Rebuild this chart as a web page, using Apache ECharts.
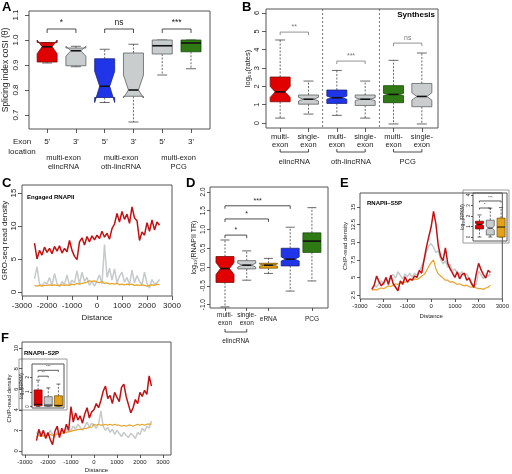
<!DOCTYPE html>
<html><head><meta charset="utf-8">
<script src="https://cdn.jsdelivr.net/npm/echarts@6/dist/echarts.min.js"></script>
<style>html,body{margin:0;padding:0;background:#fff}#c{width:512px;height:474px}</style>
</head><body><div id="c"></div>
<script>
// ---------------- DATA ----------------
// Panel A: splicing index
const aTicks = ["5'", "3'", "5'", "3'", "5'", "3'"];
const aGroups = ['multi-exon\nelincRNA', 'multi-exon\noth-lincRNA', 'multi-exon\nPCG'];
const aLow     = [0.908, 0.893, 0.750, 0.672, 0.860, 0.885];
const aQ1      = [0.912, 0.897, 0.770, 0.775, 0.944, 0.953];
const aNotchLo = [0.945, 0.935, 0.750, 0.768, 0.977, 0.988];
const aMedian  = [0.973, 0.957, 0.815, 0.800, 0.977, 0.988];
const aNotchHi = [1.000, 0.975, 0.875, 0.860, 0.977, 0.988];
const aQ3      = [0.990, 0.968, 0.925, 0.948, 1.000, 1.000];
const aHigh    = [0.990, 0.975, 0.963, 0.983, 1.000, 1.000];
const aSigPairs = [[1, 2], [3, 4], [5, 6]];
const aSigY = [1.044, 1.044, 1.044];
const aSigText = ['*', 'ns', '***'];

// Panel B: synthesis rates
const bTicks = ['multi-\nexon', 'single-\nexon', 'multi-\nexon', 'single-\nexon', 'multi-\nexon', 'single-\nexon'];
const bGroups = ['elincRNA', 'oth-lincRNA', 'PCG'];
const bLow     = [0.27, 0.49, 0.42, 0.27, -0.05, -0.05];
const bQ1      = [1.16, 1.03, 1.07, 0.96, 1.11, 0.89];
const bNotchLo = [1.40, 1.20, 1.30, 1.22, 1.50, 1.25];
const bMedian  = [1.70, 1.30, 1.38, 1.30, 1.56, 1.45];
const bNotchHi = [2.00, 1.40, 1.47, 1.38, 1.62, 1.65];
const bQ3      = [2.51, 1.53, 1.80, 1.53, 2.04, 2.16];
const bHigh    = [4.53, 2.29, 2.87, 2.29, 3.42, 3.82];
const bSigPairs = [[1, 2], [3, 4], [5, 6]];
const bSigY = [4.96, 3.38, 4.36];
const bSigText = ['**', '***', 'ns'];
const bSeparators = [2.5, 4.5];

// Panel D: RNAPII travelling ratio
const dTicks = ['multi-\nexon', 'single-\nexon', 'eRNA', 'oth-lincRNA', 'PCG'];
const dLow     = [-1.06, -0.35, -0.17, -0.64, -0.37];
const dQ1      = [-0.41, -0.05, -0.03, 0.03, 0.39];
const dNotchLo = [-0.20, 0.00, 0.02, 0.16, 0.69];
const dMedian  = [-0.04, 0.05, 0.05, 0.21, 0.69];
const dNotchHi = [0.12, 0.10, 0.08, 0.27, 0.69];
const dQ3      = [0.28, 0.17, 0.10, 0.50, 0.91];
const dHigh    = [0.72, 0.43, 0.23, 1.06, 1.58];
const dSigPairs = [[1, 2], [1, 3], [1, 4]];
const dSigY = [0.85, 1.28, 1.63];
const dSigText = ['*', '*', '***'];

// Metaprofiles (distance from TSS)
const xDist = [-2500,-2400,-2300,-2200,-2100,-2000,-1900,-1800,-1700,-1600,-1500,-1400,-1300,-1200,-1100,-1000,-900,-800,-700,-600,-500,-400,-300,-200,-100,0,100,200,300,400,500,600,700,800,900,1000,1100,1200,1300,1400,1500,1600,1700,1800,1900,2000,2100,2200,2300,2400,2500];
const cRed    = [7.4,5.0,6.3,5.6,6.8,6.0,6.6,5.8,6.9,6.2,7.0,5.9,6.6,6.1,7.8,6.3,5.4,4.9,7.6,8.2,7.1,8.4,7.6,8.5,7.9,8.6,8.1,9.2,8.3,8.9,8.0,9.6,10.3,11.9,10.6,12.2,11.0,11.8,10.4,12.9,11.2,10.8,7.8,9.1,8.6,10.5,9.2,10.9,9.4,10.6,10.1];
const cGrey   = [2.0,3.8,1.2,1.0,1.5,1.2,2.2,1.0,2.8,1.3,0.8,1.6,1.1,2.6,1.0,1.8,1.4,3.2,1.2,3.0,1.6,2.2,1.0,1.6,0.9,1.7,2.6,1.2,7.2,2.2,3.6,1.8,3.5,1.4,2.4,3.0,1.5,2.2,1.1,3.3,1.4,2.5,1.6,1.1,3.0,1.3,0.6,1.9,1.2,1.4,1.9];
const cOrange = [1.0,0.9,1.0,0.9,1.0,1.0,1.1,1.0,1.1,1.0,1.0,1.1,1.0,1.1,1.0,1.2,1.1,1.3,1.2,1.3,1.4,1.5,1.7,1.6,1.7,1.5,1.4,1.6,1.3,1.4,1.2,1.3,1.2,1.3,1.1,1.2,1.1,1.2,1.1,1.2,1.0,1.1,1.0,1.1,1.0,0.9,1.0,1.1,1.0,1.2,1.1];
const eRed    = [3.3,3.9,5.2,4.4,3.8,4.2,5.0,4.0,5.3,4.1,3.6,3.1,4.5,4.0,5.1,4.3,4.8,4.6,5.2,5.0,6.0,5.6,7.5,9.3,10.8,12.2,14.4,12.6,9.5,8.0,7.4,9.2,7.0,6.2,5.6,5.0,5.8,4.8,5.4,5.6,4.6,4.9,4.1,3.6,5.5,7.0,6.1,5.4,4.9,6.0,5.7];
const eGrey   = [3.4,3.8,3.6,4.2,4.5,4.0,4.8,4.3,5.2,5.4,4.9,5.8,5.3,4.8,5.5,5.1,5.6,5.0,5.6,5.3,5.9,6.6,7.4,8.6,9.5,9.8,9.3,8.5,8.8,7.6,6.9,7.4,6.4,6.8,5.9,6.2,5.6,5.4,5.8,5.2,5.5,4.9,4.3,3.8,4.0,5.9,5.4,4.8,5.5,5.2,5.5];
const eOrange = [3.2,3.3,3.2,3.4,3.5,3.4,3.6,3.8,3.7,3.9,4.1,4.0,4.2,4.4,4.3,4.5,4.7,4.6,4.8,4.7,4.9,5.2,5.4,5.9,6.6,7.1,7.5,6.2,5.5,5.2,4.9,4.6,4.6,4.3,4.4,4.2,4.0,4.1,3.9,3.8,3.9,3.7,3.6,3.7,3.5,3.4,3.4,3.3,3.5,3.6,3.9];
const fRed    = [1.0,2.1,1.4,2.0,1.2,1.8,1.1,0.6,1.9,2.4,1.3,2.2,1.7,2.6,2.0,4.3,2.8,3.7,3.0,3.4,2.7,3.6,4.2,3.2,3.8,4.0,4.6,4.2,4.9,5.8,6.3,5.1,5.4,4.6,5.7,5.2,4.8,6.2,6.5,5.3,4.5,3.7,4.2,5.0,4.6,5.7,5.3,5.9,5.5,7.3,6.3];
const fGrey   = [1.8,1.5,1.9,1.4,1.7,1.5,2.0,1.6,1.3,1.8,1.5,2.0,1.7,2.2,1.8,2.0,2.4,2.1,2.6,2.3,2.0,2.4,2.8,2.3,2.7,2.5,2.2,2.6,3.9,2.4,2.0,2.3,1.8,2.1,1.6,2.0,1.7,1.4,1.8,1.5,1.3,1.7,1.5,1.2,1.8,1.6,2.2,1.9,2.4,2.2,2.9];
const fOrange = [1.4,1.5,1.4,1.5,1.5,1.5,1.6,1.5,1.6,1.6,1.7,1.7,1.8,1.8,1.9,1.9,2.0,2.0,2.1,2.1,2.1,2.2,2.2,2.3,2.3,2.6,2.5,2.6,2.5,2.5,2.6,2.5,2.6,2.5,2.6,2.5,2.5,2.4,2.5,2.4,2.5,2.5,2.4,2.5,2.6,2.5,2.6,2.5,2.6,2.6,2.6];
const distTicks = [-3000, -2000, -1000, 0, 1000, 2000, 3000];

// Insets (log10 RPKM)
const eInLow = [0.0, 0.0, 0.0], eInQ1 = [0.77, 0.20, 0.00], eInNotchLo = [1.10, 0.65, 0.95], eInMedian = [1.20, 0.85, 0.95], eInNotchHi = [1.30, 1.05, 0.95], eInQ3 = [1.50, 1.60, 1.80], eInHigh = [2.10, 2.75, 2.80];
const eInSigPairs = [[1, 3], [1, 2]], eInSigY = [3.43, 2.76], eInSigText = ['***', '*'];
const fInLow = [0.0, 0.0, 0.0], fInQ1 = [0.05, 0.02, 0.02], fInNotchLo = [0.15, 0.10, 0.08], fInMedian = [0.15, 0.10, 0.08], fInNotchHi = [0.15, 0.10, 0.08], fInQ3 = [1.13, 0.67, 0.73], fInHigh = [1.80, 1.27, 1.53];
const fInSigPairs = [[1, 3], [1, 2]], fInSigY = [2.47, 2.07], fInSigText = ['***', '**'];

// ---------------- STYLE ----------------
const FONT = '"Liberation Sans", Arial, Helvetica, sans-serif';
const RED = ['#E00000', '#7A0E0E'], GREY = ['#C9CDCD', '#5E6262'], BLUE = ['#2035E8', '#1A237E'],
      GREEN = ['#2F7A14', '#1B4A0C'], ORANGE = ['#E3A21A', '#7D5806'];
const LRED = '#C41010', LGREY = '#C6CACA', LORANGE = '#E8A32A';

function axis(o) {
  const hasT = !!o.ticks;
  const ax = {
    type: 'value', gridIndex: o.grid, min: o.min, max: o.max,
    axisLine: {show: false, onZero: false}, splitLine: {show: false},
    axisTick: {show: hasT, length: o.tickLen || 3, lineStyle: {color: '#333', width: 0.8}},
    axisLabel: {show: hasT, rotate: o.rotate || 0, fontSize: o.fs || 8, fontFamily: FONT, color: '#222',
      margin: o.margin == null ? 4 : o.margin, hideOverlap: false, showMinLabel: true, showMaxLabel: true},
    name: o.name || '', nameLocation: 'middle', nameGap: o.nameGap || 15,
    nameTextStyle: {fontSize: o.nfs || 8, fontFamily: FONT, color: '#222'}
  };
  if (hasT) { ax.axisTick.customValues = o.ticks; ax.axisLabel.customValues = o.ticks; }
  ax.axisLabel.formatter = o.fmt || (v => String(v));
  if (o.lh) ax.axisLabel.lineHeight = o.lh;
  if (o.va) ax.axisLabel.verticalAlign = o.va;
  if (o.nameRotate != null) ax.nameRotate = o.nameRotate;
  return ax;
}

function boxSeries(g, low, q1, nl, md, nh, q3, hi, colors, boxW, medW) {
  const data = low.map((v, i) => [i + 1, low[i], q1[i], nl[i], md[i], nh[i], q3[i], hi[i]]);
  return {
    type: 'custom', xAxisIndex: g, yAxisIndex: g, data, z: 5, clip: false, silent: true,
    encode: {x: [0], y: [1, 2, 3, 4, 5, 6, 7]},
    renderItem(params, api) {
      const i = params.dataIndex;
      const xv = api.value(0);
      const Y = k => api.coord([xv, api.value(k)])[1];
      const cx = api.coord([xv, api.value(4)])[0];
      const yLo = Y(1), yQ1 = Y(2), yNl = Y(3), yMd = Y(4), yNh = Y(5), yQ3 = Y(6), yHi = Y(7);
      const w = boxW / 2, cw = boxW * 0.25;
      const dash = {stroke: '#444', lineWidth: 0.8, lineDash: [2, 1.5]};
      const cap = {stroke: '#444', lineWidth: 0.8};
      const notched = Math.abs(api.value(3) - api.value(5)) > 1e-9;
      const pts = notched
        ? [[cx - w, yQ1], [cx - w, yNl], [cx - w / 2, yMd], [cx - w, yNh], [cx - w, yQ3], [cx + w, yQ3], [cx + w, yNh], [cx + w / 2, yMd], [cx + w, yNl], [cx + w, yQ1]]
        : [[cx - w, yQ1], [cx - w, yQ3], [cx + w, yQ3], [cx + w, yQ1]];
      const mw = notched ? w / 2 : w;
      return {type: 'group', children: [
        {type: 'line', shape: {x1: cx, y1: yQ3, x2: cx, y2: yHi}, style: dash},
        {type: 'line', shape: {x1: cx, y1: yQ1, x2: cx, y2: yLo}, style: dash},
        {type: 'line', shape: {x1: cx - cw, y1: yHi, x2: cx + cw, y2: yHi}, style: cap},
        {type: 'line', shape: {x1: cx - cw, y1: yLo, x2: cx + cw, y2: yLo}, style: cap},
        {type: 'polygon', shape: {points: pts}, style: {fill: colors[i][0], stroke: colors[i][1], lineWidth: 0.8}},
        {type: 'line', shape: {x1: cx - mw, y1: yMd, x2: cx + mw, y2: yMd}, style: {stroke: '#111', lineWidth: medW || 1.6}}
      ]};
    }
  };
}

function sigSeries(g, pairs, ys, texts, color, fs, tick) {
  const data = pairs.map((p, i) => [p[0], p[1], ys[i]]);
  return {
    type: 'custom', xAxisIndex: g, yAxisIndex: g, data, z: 6, clip: false, silent: true,
    encode: {x: [0, 1], y: [2]},
    renderItem(params, api) {
      const a = api.coord([api.value(0), api.value(2)]);
      const b = api.coord([api.value(1), api.value(2)]);
      const t = tick;
      return {type: 'group', children: [
        {type: 'polyline', shape: {points: [[a[0], a[1] + t], [a[0], a[1]], [b[0], a[1]], [b[0], a[1] + t]]},
         style: {stroke: color, lineWidth: 0.8, fill: null}},
        {type: 'text', style: {text: texts[params.dataIndex], x: (a[0] + b[0]) / 2, y: a[1] - 1.5,
          align: 'center', verticalAlign: 'bottom', fontSize: fs, fontFamily: FONT, fill: color}}
      ]};
    }
  };
}

function groupSeries(g, pairs, texts, o) {
  const data = pairs.map(p => [p[0], p[1]]);
  return {
    type: 'custom', xAxisIndex: g, yAxisIndex: g, data, z: 6, clip: false, silent: true,
    encode: {x: [0, 1]},
    renderItem(params, api) {
      const cs = params.coordSys;
      const bottom = cs.y + cs.height;
      const xa = api.coord([api.value(0), 0])[0];
      const xb = api.coord([api.value(1), 0])[0];
      const ch = [];
      if (o.bracket != null) {
        const yb = bottom + o.bracket;
        ch.push({type: 'polyline', shape: {points: [[xa, yb - 3], [xa, yb], [xb, yb], [xb, yb - 3]]},
          style: {stroke: '#222', lineWidth: 0.8, fill: null}});
      }
      ch.push({type: 'text', style: {text: texts[params.dataIndex], x: (xa + xb) / 2 + (o.dx || 0), y: bottom + o.text,
        align: 'center', verticalAlign: 'middle', fontSize: o.fs, lineHeight: o.lh || o.fs + 1, fontFamily: FONT, fill: '#222'}});
      return {type: 'group', children: ch};
    }
  };
}

function sepSeries(g, xs) {
  return {
    type: 'custom', xAxisIndex: g, yAxisIndex: g, data: xs.map(x => [x]), z: 3, clip: false, silent: true,
    encode: {x: [0]},
    renderItem(params, api) {
      const cs = params.coordSys;
      const x = api.coord([api.value(0), 0])[0];
      return {type: 'line', shape: {x1: x, y1: cs.y, x2: x, y2: cs.y + cs.height},
        style: {stroke: '#555', lineWidth: 0.8, lineDash: [2, 2]}};
    }
  };
}

function lineSeries(g, ys, color, w, z) {
  return {type: 'line', xAxisIndex: g, yAxisIndex: g, data: xDist.map((x, i) => [x, ys[i]]),
    showSymbol: false, symbol: 'none', silent: true, z: z,
    lineStyle: {color: color, width: w}};
}

const gridStyle = {show: true, borderColor: '#555', borderWidth: 1, backgroundColor: 'transparent'};
const grids = [
  Object.assign({left: 29, top: 11, width: 181, height: 118}, gridStyle),   // A
  Object.assign({left: 266, top: 9, width: 172, height: 119}, gridStyle),   // B
  Object.assign({left: 22, top: 185, width: 150, height: 111}, gridStyle),  // C
  Object.assign({left: 210, top: 187, width: 118, height: 121}, gridStyle), // D
  Object.assign({left: 360, top: 193, width: 151, height: 106}, gridStyle), // E
  Object.assign({left: 473, top: 193, width: 34, height: 48}, gridStyle),   // E inset
  Object.assign({left: 22, top: 342, width: 149, height: 114}, gridStyle),  // F
  Object.assign({left: 32, top: 364, width: 32, height: 44}, gridStyle)     // F inset
];

const fmt1 = v => v.toFixed(1);
const xAxes = [
  axis({grid: 0, min: 0.37, max: 6.66, ticks: [1, 2, 3, 4, 5, 6], fmt: v => aTicks[Math.round(v) - 1], margin: 9, tickLen: 4, fs: 8}),
  axis({grid: 1, min: 0.5, max: 6.57, ticks: [1, 2, 3, 4, 5, 6], fmt: v => bTicks[Math.round(v) - 1], margin: 5, tickLen: 4, fs: 7.5, lh: 8}),
  axis({grid: 2, min: -3000, max: 3000, ticks: distTicks, margin: 6, tickLen: 4, fs: 8, name: 'Distance', nameGap: 18}),
  axis({grid: 3, min: 0.31, max: 5.74, ticks: [1, 2, 3, 4, 5], fmt: v => dTicks[Math.round(v) - 1], margin: 11, tickLen: 3, fs: 6.5, lh: 8, va: 'middle'}),
  axis({grid: 4, min: -3000, max: 3000, ticks: distTicks, margin: 4, tickLen: 3, fs: 6, name: 'Distance', nameGap: 14, nfs: 6}),
  axis({grid: 5, min: 0.4, max: 3.55, ticks: null}),
  axis({grid: 6, min: -3130, max: 3350, ticks: distTicks, margin: 4, tickLen: 3, fs: 6, name: 'Distance', nameGap: 12, nfs: 6}),
  axis({grid: 7, min: 0.4, max: 3.55, ticks: null})
];
const yAxes = [
  axis({grid: 0, min: 0.644, max: 1.116, ticks: [0.7, 0.8, 0.9, 1.0, 1.1], fmt: fmt1, rotate: 90, margin: 9, tickLen: 4, fs: 8,
        name: 'Splicing index coSI (\u03b8)', nameGap: 19, nameRotate: 90, nfs: 8.5}),
  axis({grid: 1, min: -0.27, max: 6.22, ticks: [0, 1, 2, 3, 4, 5, 6], rotate: 90, margin: 5, tickLen: 4, fs: 7.5,
        name: 'log\u2081\u2080(rates)', nameGap: 14, nameRotate: 90, nfs: 7.5}),
  axis({grid: 2, min: -0.6, max: 16.2, ticks: [0, 5, 10, 15], rotate: 90, margin: 4, tickLen: 4, fs: 8,
        name: 'GRO-seq read density', nameGap: 12, nameRotate: 90, nfs: 8}),
  axis({grid: 3, min: -1.09, max: 2.13, ticks: [-1, -0.5, 0, 0.5, 1, 1.5, 2], fmt: fmt1, rotate: 90, margin: 3, tickLen: 3, fs: 6.5,
        name: 'log\u2081\u2080(RNAPII TR)', nameGap: 12, nameRotate: 90, nfs: 7}),
  axis({grid: 4, min: 1.93, max: 17.0, ticks: [2.5, 5, 7.5, 10, 12.5, 15], rotate: 90, margin: 4, tickLen: 3, fs: 6,
        name: 'ChIP-read density', nameGap: 12, nameRotate: 90, nfs: 6}),
  axis({grid: 5, min: -0.38, max: 4.19, ticks: [0, 1, 2, 3, 4], rotate: 90, margin: 2, tickLen: 2, fs: 4.5,
        name: 'log\u2081\u2080(RPKM)', nameGap: 7, nameRotate: 90, nfs: 4.5}),
  axis({grid: 6, min: -0.4, max: 10.6, ticks: [0, 2, 4, 6, 8, 10], rotate: 90, margin: 3, tickLen: 3, fs: 6,
        name: 'ChIP-read density', nameGap: 10, nameRotate: 90, nfs: 6}),
  axis({grid: 7, min: -0.1, max: 2.9, ticks: [0, 1, 2], rotate: 90, margin: 2, tickLen: 2, fs: 4.5,
        name: 'log\u2081\u2080(RPKM)', nameGap: 7, nameRotate: 90, nfs: 4.5})
];

const series = [
  boxSeries(0, aLow, aQ1, aNotchLo, aMedian, aNotchHi, aQ3, aHigh, [RED, GREY, BLUE, GREY, GREY, GREEN], 20),
  sigSeries(0, aSigPairs, aSigY, aSigText, '#222', 8.5, 4),
  groupSeries(0, [[1, 2], [3, 4], [5, 6]], aGroups, {text: 33.5, fs: 7.5, lh: 9, dx: 2}),
  boxSeries(1, bLow, bQ1, bNotchLo, bMedian, bNotchHi, bQ3, bHigh, [RED, GREY, BLUE, GREY, GREEN, GREY], 20),
  sigSeries(1, bSigPairs, bSigY, bSigText, '#777', 7, 3),
  sepSeries(1, bSeparators),
  groupSeries(1, [[1, 2], [3, 4], [5, 6]], bGroups, {bracket: 24, text: 34, fs: 7.5}),
  lineSeries(2, cGrey, LGREY, 1.5, 2), lineSeries(2, cOrange, LORANGE, 1.3, 3), lineSeries(2, cRed, LRED, 1.5, 4),
  boxSeries(3, dLow, dQ1, dNotchLo, dMedian, dNotchHi, dQ3, dHigh, [RED, GREY, ORANGE, BLUE, GREEN], 18),
  sigSeries(3, dSigPairs, dSigY, dSigText, '#222', 7, 3),
  groupSeries(3, [[1, 2]], ['elincRNA'], {bracket: 24, text: 33, fs: 6.5}),
  lineSeries(4, eGrey, LGREY, 1.5, 2), lineSeries(4, eOrange, LORANGE, 1.2, 3), lineSeries(4, eRed, LRED, 1.5, 4),
  boxSeries(5, eInLow, eInQ1, eInNotchLo, eInMedian, eInNotchHi, eInQ3, eInHigh, [RED, GREY, ORANGE], 8, 1),
  sigSeries(5, eInSigPairs, eInSigY, eInSigText, '#333', 4, 1.5),
  lineSeries(6, fGrey, LGREY, 1.5, 2), lineSeries(6, fOrange, LORANGE, 1.2, 3), lineSeries(6, fRed, LRED, 1.5, 4),
  boxSeries(7, fInLow, fInQ1, fInNotchLo, fInMedian, fInNotchHi, fInQ3, fInHigh, [RED, GREY, ORANGE], 8, 1),
  sigSeries(7, fInSigPairs, fInSigY, fInSigText, '#333', 4, 1.5)
];

const T = (text, x, y, font, align) => ({type: 'text', x: x, y: y, z: 50,
  style: {text: text, font: font, fill: '#000', align: align || 'left', verticalAlign: 'middle'}});
const graphic = [
  {type: 'rect', z: -10, shape: {x: 463, y: 190, width: 46, height: 53}, style: {fill: '#fff', stroke: '#9a9a9a', lineWidth: 1}},
  {type: 'rect', z: -10, shape: {x: 19, y: 359, width: 48, height: 51}, style: {fill: '#fff', stroke: '#9a9a9a', lineWidth: 1}},
  T('A', 2, 7, 'bold 13px ' + FONT),
  T('B', 242, 7, 'bold 13px ' + FONT),
  T('C', 2, 183, 'bold 13px ' + FONT),
  T('D', 186, 183, 'bold 13px ' + FONT),
  T('E', 340, 183, 'bold 13px ' + FONT),
  T('F', 1, 338, 'bold 13px ' + FONT),
  {type: 'text', x: 22, y: 147, z: 50, style: {text: 'Exon\nlocation', font: '8px ' + FONT, lineHeight: 10, fill: '#222', align: 'center', verticalAlign: 'middle'}},
  T('Synthesis', 435, 15, 'bold 8px ' + FONT, 'right'),
  T('Engaged RNAPII', 27, 197, 'bold 6px ' + FONT),
  T('RNAPII\u2013S5P', 367, 203, 'bold 6px ' + FONT),
  T('RNAPII\u2013S2P', 24, 353, 'bold 6px ' + FONT)
];

const chart = echarts.init(document.getElementById('c'), null, {renderer: 'canvas'});
chart.setOption({
  animation: false,
  backgroundColor: '#fff',
  grid: grids, xAxis: xAxes, yAxis: yAxes, series: series, graphic: graphic
});
</script></body></html>
